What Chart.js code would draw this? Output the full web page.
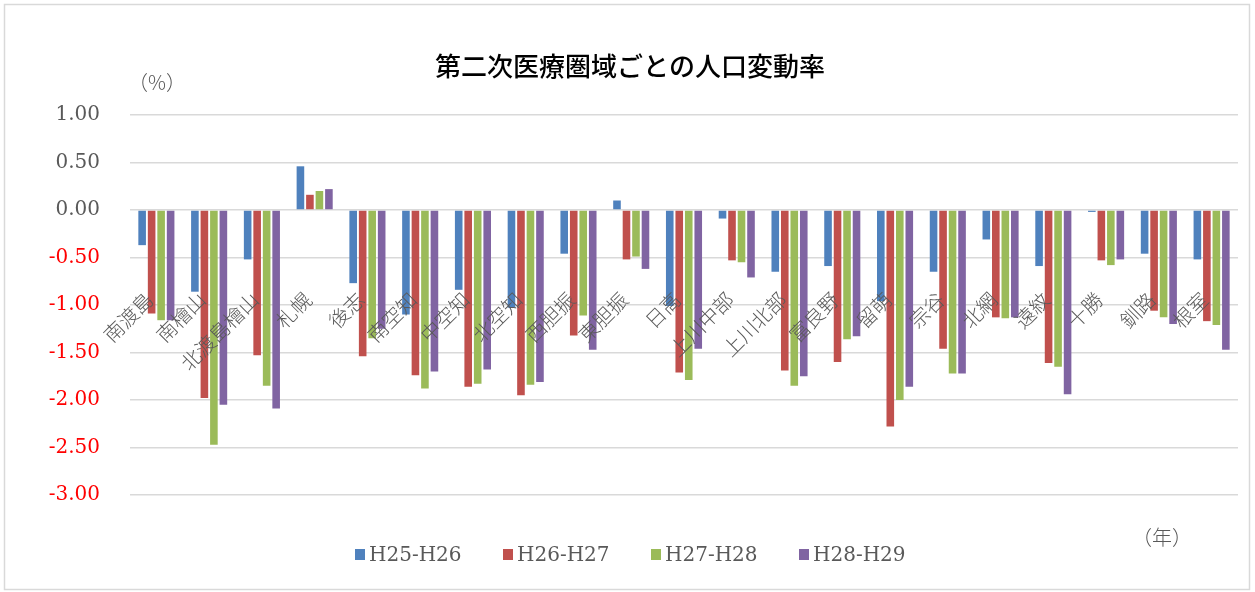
<!DOCTYPE html>
<html>
<head>
<meta charset="utf-8">
<script src="https://cdn.jsdelivr.net/npm/chart.js@4"></script>
<style>
  html, body { margin: 0; padding: 0; background: #fff; }
  #wrap { position: relative; width: 1255px; height: 592px; }
</style>
</head>
<body>
<div id="wrap"><canvas id="c" width="1255" height="592"></canvas></div>
<script>
// 第二次医療圏域ごとの人口変動率
const areas = ['南渡島', '南檜山', '北渡島檜山', '札幌', '後志', '南空知', '中空知', '北空知', '西胆振', '東胆振',
  '日高', '上川中部', '上川北部', '富良野', '留萌', '宗谷', '北網', '遠紋', '十勝', '釧路', '根室'];
const seriesNames = ['H25-H26', 'H26-H27', 'H27-H28', 'H28-H29'];
const h25h26 = [-0.37, -0.86, -0.52, 0.46, -0.77, -1.10, -0.84, -1.03, -0.46, 0.10, -1.01, -0.09, -0.65, -0.59, -0.96, -0.65, -0.31, -0.59, -0.02, -0.46, -0.52];
const h26h27 = [-1.09, -1.98, -1.53, 0.16, -1.54, -1.74, -1.86, -1.95, -1.32, -0.52, -1.71, -0.53, -1.69, -1.60, -2.28, -1.46, -1.13, -1.61, -0.53, -1.06, -1.17];
const h27h28 = [-1.16, -2.47, -1.85, 0.20, -1.35, -1.88, -1.83, -1.84, -1.11, -0.49, -1.79, -0.55, -1.85, -1.36, -2.00, -1.72, -1.14, -1.65, -0.58, -1.13, -1.21];
const h28h29 = [-1.16, -2.05, -2.09, 0.22, -1.25, -1.70, -1.68, -1.81, -1.47, -0.62, -1.46, -0.71, -1.75, -1.33, -1.86, -1.72, -1.13, -1.94, -0.52, -1.20, -1.47];
const colors = ['#4f81bd', '#c0504d', '#9bbb59', '#8064a2'];

const serif = '"DejaVu Serif", "Liberation Serif", serif';
const jp = '"Noto Sans CJK JP", "Noto Sans", sans-serif';
const gray = '#595959';

// frame, title, unit labels, legend and rotated category labels
const decor = {
  id: 'decor',
  beforeDraw(chart) {
    const ctx = chart.ctx;
    ctx.save();
    ctx.fillStyle = '#fff';
    ctx.fillRect(0, 0, chart.width, chart.height);
    ctx.strokeStyle = '#d9d9d9';
    ctx.lineWidth = 1.5;
    ctx.strokeRect(4.5, 4.5, 1245, 585);
    ctx.restore();
  },
  afterDraw(chart) {
    const ctx = chart.ctx;
    const x = chart.scales.x;
    ctx.save();
    // title
    ctx.fillStyle = '#000';
    ctx.font = '500 26px ' + jp;
    ctx.textAlign = 'center';
    ctx.textBaseline = 'middle';
    ctx.fillText('第二次医療圏域ごとの人口変動率', 630, 66);
    // units
    ctx.fillStyle = gray;
    ctx.textAlign = 'left';
    ctx.font = '300 20px ' + jp;
    ctx.fillText('（%）', 128, 82);
    ctx.fillText('（年）', 1132, 537);
    // legend
    const lx = [355, 503, 651, 799];
    ctx.font = '20px ' + serif;
    seriesNames.forEach((n, i) => {
      ctx.fillStyle = colors[i];
      ctx.fillRect(lx[i], 549, 10, 11);
      ctx.fillStyle = gray;
      ctx.fillText(n, lx[i] + 14, 556);
    });
    // category labels, rotated -45deg, right end near each category centre
    ctx.font = '300 20px ' + jp;
    ctx.fillStyle = gray;
    ctx.textAlign = 'right';
    areas.forEach((a, i) => {
      const cx = x.getPixelForValue(i);
      ctx.save();
      ctx.translate(cx - 7, 296);
      ctx.rotate(-Math.PI / 4);
      ctx.fillText(a, 0, 0);
      ctx.restore();
    });
    ctx.restore();
  }
};

new Chart(document.getElementById('c'), {
  type: 'bar',
  data: {
    labels: areas,
    datasets: [h25h26, h26h27, h27h28, h28h29].map((d, i) => ({
      label: seriesNames[i],
      data: d,
      backgroundColor: colors[i],
      borderWidth: 0,
      categoryPercentage: 0.72,
      barPercentage: 0.8
    }))
  },
  options: {
    responsive: false,
    animation: false,
    layout: { padding: { top: 115, bottom: 97, right: 17, left: 0 } },
    plugins: { legend: { display: false }, title: { display: false }, tooltip: { enabled: false } },
    scales: {
      x: { display: false },
      y: {
        min: -3, max: 1,
        afterFit(s) { s.width = 130; },
        border: { display: false },
        grid: { color: '#d9d9d9', lineWidth: 1.5, drawTicks: false },
        ticks: {
          stepSize: 0.5,
          padding: 30,
          font: { family: serif, size: 20 },
          color: c => (c.tick && c.tick.value < 0 ? '#ff0000' : gray),
          callback: v => v.toFixed(2)
        }
      }
    }
  },
  plugins: [decor]
});
</script>
</body>
</html>
